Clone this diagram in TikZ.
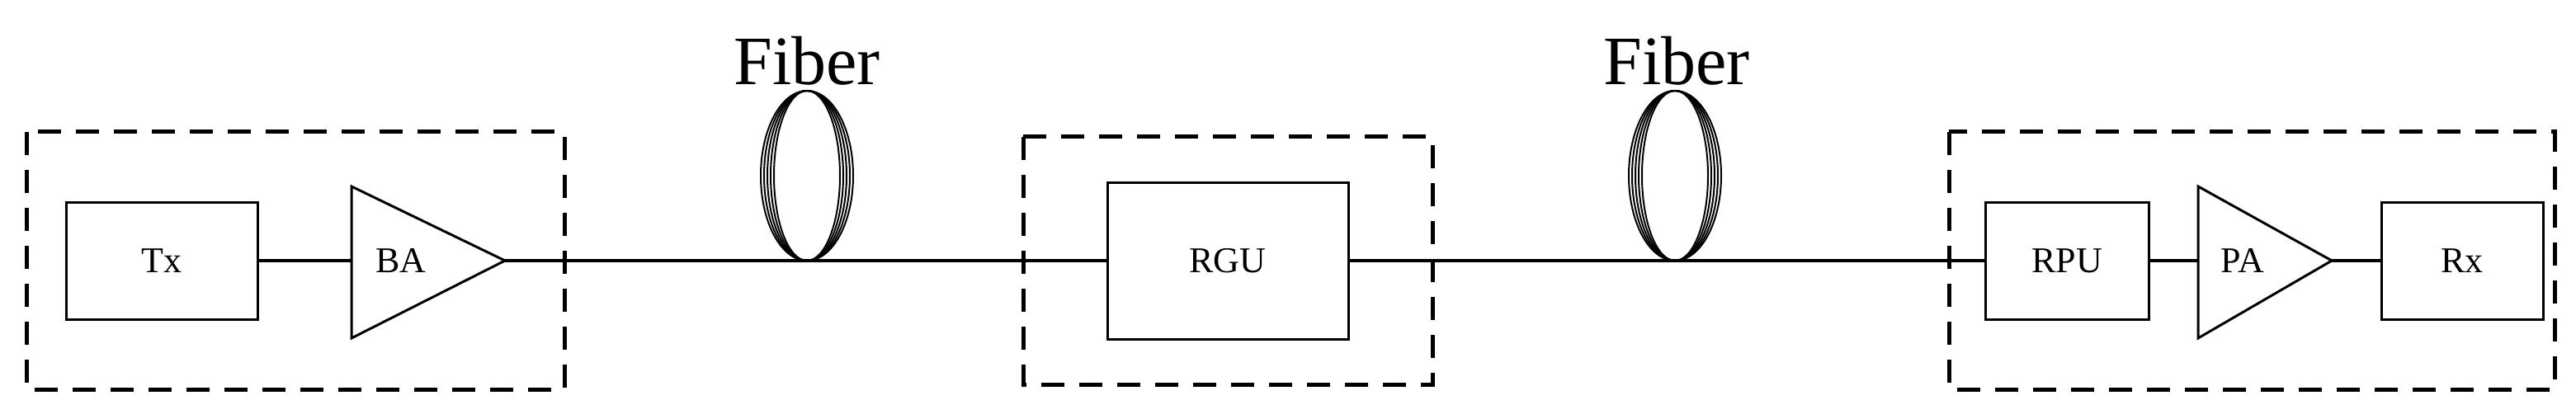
\documentclass[tikz,border=0pt]{standalone}
\usepackage{fontspec}
\setmainfont{Liberation Serif}
\begin{document}
\begin{tikzpicture}[x=2pt,y=-2pt,
  box/.style={draw,line width=3pt,minimum width=0,inner sep=0,font=\fontsize{44}{44}\selectfont},
  amp/.style={draw,line width=3pt,line join=miter},
  group/.style={draw,line width=5pt,dash pattern=on 28pt off 18pt},
  link/.style={line width=4pt},
  coil/.style={line width=2pt},
  lbl/.style={font=\fontsize{84}{84}\selectfont,inner sep=0}]
\useasboundingbox (0,0) rectangle (1561,254);
% groups
\draw[group] (16,80) rectangle (342,236);
\draw[group] (620,83) rectangle (868,233);
\draw[group] (1181,80) rectangle (1548,236);
% boxes
\node[box,minimum width=232pt,minimum height=142pt] (tx) at (98,158) {Tx};
\node[box,minimum width=292pt,minimum height=190pt] (rgu) at (744,158) {RGU};
\node[box,minimum width=198pt,minimum height=142pt] (rpu) at (1252.5,158) {RPU};
\node[box,minimum width=196pt,minimum height=142pt] (rx) at (1492,158) {Rx};
% amplifiers
\coordinate (baw) at (213,158); \coordinate (bae) at (306,158);
\draw[amp] (213,113) -- (306,158) -- (213,205) -- cycle;
\node[font=\fontsize{44}{44}\selectfont] (ba) at (243,158) {BA};
\coordinate (paw) at (1332,158); \coordinate (pae) at (1413,158);
\draw[amp] (1332,113) -- (1413,158) -- (1332,205) -- cycle;
\node[font=\fontsize{44}{44}\selectfont] (pa) at (1359,158) {PA};
% fibers
\foreach \r in {40,44,48,52,56}{\draw[coil] (489,106.5) ellipse ({\r*0.5} and 51.5);}
\foreach \r in {40,44,48,52,56}{\draw[coil] (1015,106.5) ellipse ({\r*0.5} and 51.5);}
\node[lbl] (f1) at (489,37) {Fiber};
\node[lbl] (f2) at (1016,37) {Fiber};
% links
\draw[link] (tx.east) -- (baw);
\draw[link] (bae) -- (rgu.west);
\draw[link] (rgu.east) -- (rpu.west);
\draw[link] (rpu.east) -- (paw);
\draw[link] (pae) -- (rx.west);
\end{tikzpicture}
\end{document}
